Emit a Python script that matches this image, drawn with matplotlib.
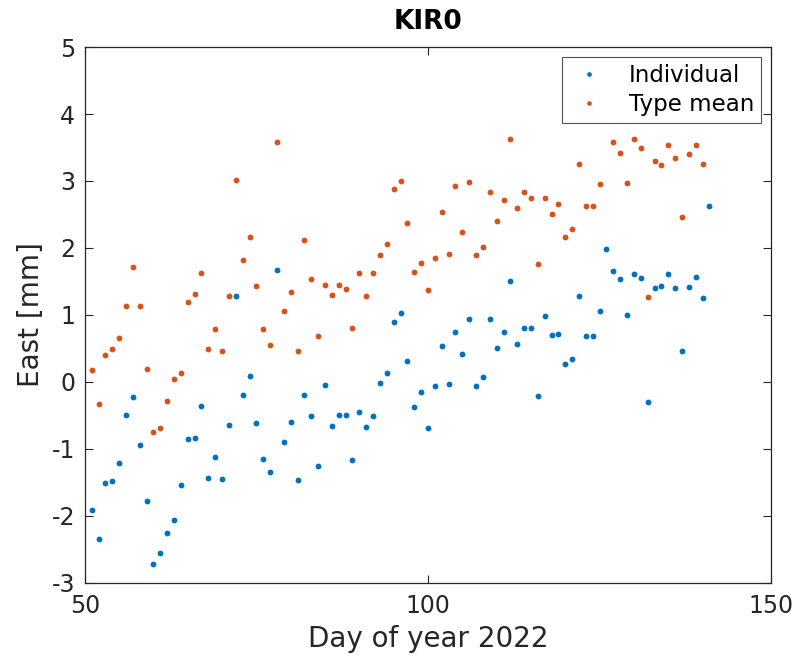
import numpy as np
import matplotlib.pyplot as plt

# Data (day of year 2022, East in mm)
days_ind = np.arange(51, 142)
east_ind = [-1.91, -2.35, -1.51, -1.48, -1.21, -0.50, -0.22, -0.94, -1.77, -2.71,
            -2.55, -2.26, -2.06, -1.54, -0.85, -0.83, -0.36, -1.44, -1.12, -1.45,
            -0.64, 1.28, -0.20, 0.09, -0.61, -1.15, -1.34, 1.67, -0.90, -0.59,
            -1.46, -0.19, -0.51, -1.25, -0.05, -0.65, -0.50, -0.49, -1.16, -0.45,
            -0.67, -0.51, -0.02, 0.14, 0.90, 1.03, 0.32, -0.37, -0.15, -0.69,
            -0.06, 0.54, -0.03, 0.75, 0.42, 0.94, -0.06, 0.07, 0.94, 0.50,
            0.75, 1.50, 0.57, 0.80, 0.80, -0.21, 0.98, 0.70, 0.71, 0.27,
            0.34, 1.28, 0.68, 0.68, 1.06, 1.98, 1.65, 1.53, 1.00, 1.61,
            1.55, -0.30, 1.41, 1.44, 1.61, 1.40, 0.46, 1.42, 1.57, 1.26,
            2.62]

days_type = list(range(51, 126)) + list(range(127, 141))
east_type = [0.18, -0.33, 0.41, 0.49, 0.65, 1.14, 1.71, 1.14, 0.20, -0.75,
             -0.68, -0.29, 0.05, 0.13, 1.20, 1.31, 1.63, 0.49, 0.79, 0.46,
             1.28, 3.01, 1.82, 2.16, 1.43, 0.79, 0.55, 3.58, 1.06, 1.34,
             0.46, 2.12, 1.53, 0.68, 1.45, 1.30, 1.45, 1.39, 0.81, 1.63,
             1.29, 1.63, 1.90, 2.06, 2.88, 3.00, 2.38, 1.64, 1.77, 1.38,
             1.85, 2.54, 1.91, 2.92, 2.24, 2.99, 1.90, 2.01, 2.83, 2.40,
             2.71, 3.62, 2.59, 2.83, 2.74, 1.76, 2.75, 2.50, 2.66, 2.17,
             2.29, 3.26, 2.62, 2.63, 2.95,
             3.58, 3.42, 2.97, 3.63, 3.50, 1.27, 3.30, 3.24, 3.54, 3.35,
             2.47, 3.41, 3.54, 3.25]

blue = '#0072BD'
orange = '#D95319'

plt.rcParams['font.family'] = ['DejaVu Sans']
plt.rcParams['axes.unicode_minus'] = False

fig = plt.figure(figsize=(8, 6.63), dpi=100)
ax = fig.add_axes([0.106, 0.1207, 0.858, 0.8084])

ax.plot(days_ind, east_ind, 'o', color=blue, markersize=4.2, markeredgewidth=0,
        label='Individual')
ax.plot(days_type, east_type, 'o', color=orange, markersize=4.2, markeredgewidth=0,
        label='Type mean')

ax.set_xlim(50, 150)
ax.set_ylim(-3, 5)
ax.set_xticks([50, 100, 150])
ax.set_yticks(range(-3, 6))
ax.tick_params(direction='in', length=6, width=0.8, top=True, right=True,
               labelsize=17, colors='#262626')
ax.tick_params(axis='x', pad=8)
ax.tick_params(axis='y', pad=7)
for s in ax.spines.values():
    s.set_color('#262626')
    s.set_linewidth(0.9)

ax.set_xlabel('Day of year 2022', fontsize=20, color='#262626', labelpad=5)
ax.set_ylabel('East [mm]', fontsize=20, color='#262626', labelpad=5)
ax.set_title('KIR0', fontsize=19, fontweight='bold', pad=13)

leg = ax.legend(loc='upper right', fontsize=16.5, frameon=True, fancybox=False,
                edgecolor='#262626', markerscale=0.8, handletextpad=0.9,
                borderpad=0.3, labelspacing=0.25, handlelength=1.7,
                borderaxespad=0.45)
leg.get_frame().set_linewidth(0.8)

fig.savefig('out.png', dpi=100)
